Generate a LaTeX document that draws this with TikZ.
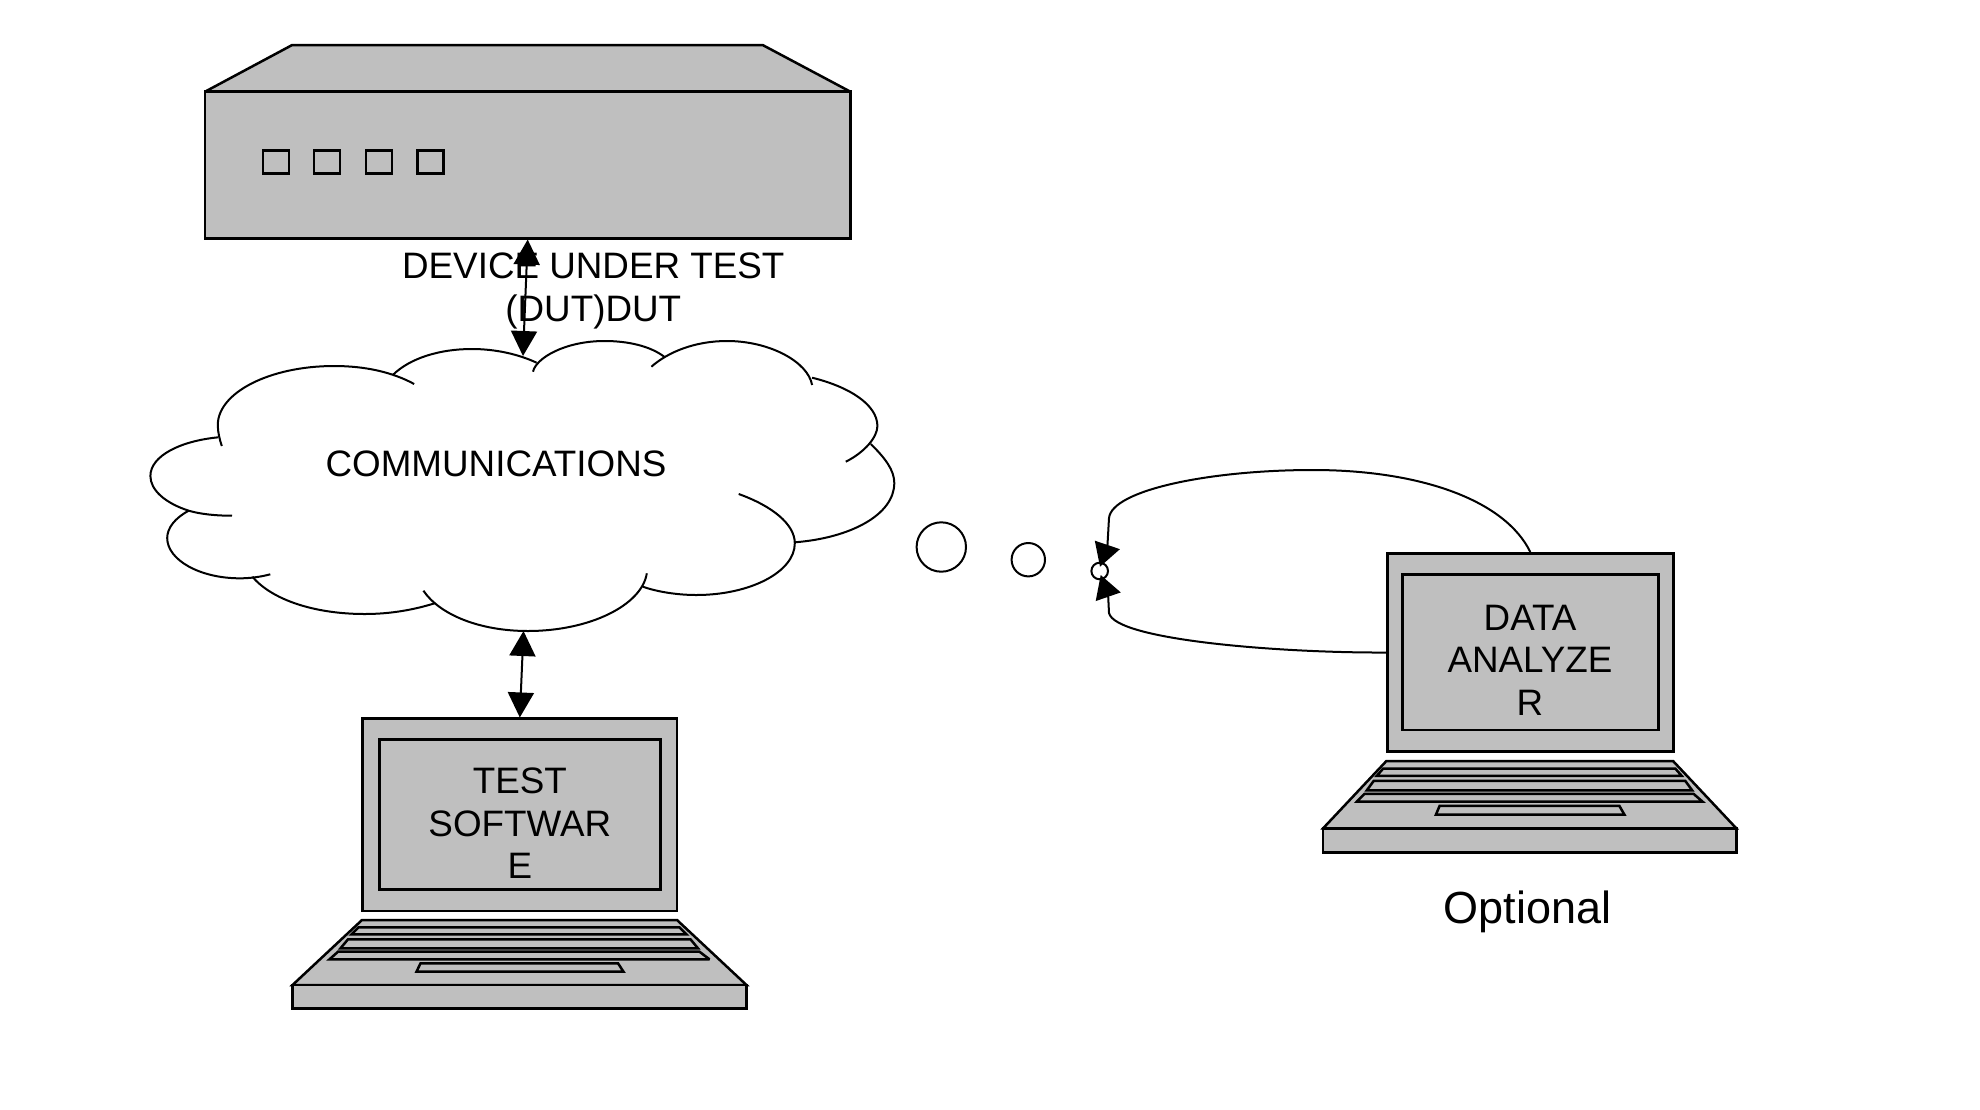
\documentclass[tikz,border=0pt]{standalone}
\usepackage{fontspec}
\setmainfont{Liberation Sans}
\usetikzlibrary{arrows.meta}
\definecolor{hwgray}{HTML}{BFBFBF}

\begin{document}
\begin{tikzpicture}[
		x=.5pt, y=-.5pt,
		hw/.style = {draw, fill=hwgray, line width=1.25pt, line join=miter, miter limit=3},
		main/.style = {hw, rectangle, inner sep=0pt},
		port/.style = {main, minimum width=13pt, minimum height=11.5pt},
		bubble/.style = {draw, circle, inner sep=0pt, line width=1pt},
		lobe/.style = {line width=1pt},
		link/.style = {<->, >={Triangle[length=12.5pt, width=13pt]}, line width=1pt},
		wire/.style = {-{Triangle[length=11.5pt, width=13pt]}, line width=1pt},
		caption/.style = {align=center, inner sep=0pt, font=\fontsize{18.4}{21.5}\selectfont},
		screen/.style = {align=center, inner sep=0pt, font=\fontsize{18.4}{21.4}\selectfont},
		pics/keyboard/.style = {code={
			\draw[hw] (-157.5,0) -- (157.5,0) -- (227,65) -- (-227,65) -- cycle;
			\draw[hw] (-227,65) rectangle (227,88.3);
			\draw[hw] (-161,7.3) -- (160,7.3) -- (167,14.3) -- (-168,14.3) -- cycle;
			\draw[hw] (-171.5,19.3) -- (171,19.3) -- (178.5,28.3) -- (-179,28.3) -- cycle;
			\draw[hw] (-181.5,31.7) -- (180,31.7) -- (190,39.3) -- (-190,39.3) -- cycle;
			\draw[hw] (-99,43.3) -- (98.5,43.3) -- (104,51.7) -- (-103,51.7) -- cycle;
		}}
	]
	\useasboundingbox (0,0) rectangle (1980,1109);

	% Device.
	\draw[hw, line join=bevel] (205,91.7) -- (292.2,45) -- (762.6,45) -- (850.4,91.7) -- cycle;
	\node[main, minimum width=322.7pt, minimum height=73.3pt] (dut) at (527.7,165) {};
	\node[port] (porta) at (276,162) {};
	\node[port] (portb) at (327,162) {};
	\node[port] (portc) at (379,162) {};
	\node[port] (portd) at (430.6,162) {};
	\node[caption] (dutlabel) at (593.3,291.3) {DEVICE UNDER TEST\\(DUT)DUT};

	% Cloud.
	\draw[lobe] (221.8,446) .. controls (219.5,439) and (217.8,432) .. (217.8,425) .. controls (217.8,392.5) and (270,366) .. (334,366) .. controls (365,366) and (392,372) .. (414.2,384);
	\draw[lobe] (392.8,375) .. controls (410,358) and (440,349) .. (471.8,349) .. controls (495,349) and (518,354) .. (536.6,362.7);
	\draw[lobe] (533,371.7) .. controls (536,358) and (565,341) .. (604.5,341) .. controls (628,341) and (650,346) .. (664.2,356.7);
	\draw[lobe] (651.4,366.7) .. controls (668,352) and (695,341) .. (726.9,341) .. controls (770,341) and (808,362) .. (812.1,385);
	\draw[lobe] (812.1,377.7) .. controls (850,387) and (877.4,405) .. (877.4,426) .. controls (877.4,437) and (865,452) .. (845.8,461.7);
	\draw[lobe] (870.8,444) .. controls (885,458) and (894.3,470) .. (894.3,483) .. controls (894.3,515) and (850,538) .. (794.8,542.3);
	\draw[lobe] (738.7,494) .. controls (772,506) and (794.8,524) .. (794.8,543.3) .. controls (794.8,572) and (750,595) .. (696.3,595) .. controls (678,595) and (658,592) .. (642.8,586.7);
	\draw[lobe] (646.8,573.3) .. controls (642,605) and (590,631) .. (528,631) .. controls (480,631) and (440,615) .. (423.4,590.7);
	\draw[lobe] (434.6,603.3) .. controls (413,610) and (390,614) .. (364.7,614) .. controls (315,614) and (272,600) .. (252.4,576.7);
	\draw[lobe] (270.3,574.3) .. controls (260,577) and (250,578.3) .. (239.7,578.3) .. controls (200,578.3) and (167.2,560) .. (167.2,538) .. controls (167.2,528) and (175,518) .. (188.7,510.7);
	\draw[lobe] (232,515.7) .. controls (215,515.7) and (200,514) .. (188.7,510.7) .. controls (165,503) and (150.4,490) .. (150.4,476) .. controls (150.4,456) and (180,441) .. (218.3,437.3);
	\node[caption] (comm) at (496,464) {COMMUNICATIONS};
	\coordinate (cloudtop) at (523,356);
	\coordinate (cloudbot) at (523.5,631);

	% Test laptop.
	\node[main, minimum width=157.2pt, minimum height=96.15pt] (testouter) at (519.8,814.85) {};
	\node[main, minimum width=140.5pt, minimum height=75pt] (testinner) at (520.2,814.3) {};
	\node[screen] (testlabel) at (519.8,823.3) {TEST\\SOFTWAR\\E};
	\pic (testkeys) at (519.5,920) {keyboard};

	% Analyzer laptop.
	\node[main, minimum width=143pt, minimum height=99.2pt] (dataouter) at (1530.3,652.5) {};
	\node[main, minimum width=128pt, minimum height=77.85pt] (datainner) at (1530.7,652.15) {};
	\node[screen] (datalabel) at (1530,660.3) {DATA\\ANALYZE\\R};
	\pic[xscale=.91, yscale=1.035] (datakeys) at (1529.7,761) {keyboard};
	\node[inner sep=0pt, font=\fontsize{22.5}{26}\selectfont] (optional) at (1527.5,912) {Optional};

	% Dots.
	\node[bubble, minimum size=24.7pt] (bubblea) at (941.3,547) {};
	\node[bubble, minimum size=16.7pt] (bubbleb) at (1028.3,559.7) {};
	\node[bubble, minimum size=8.3pt] (bubblec) at (1099.7,571) {};
	\coordinate (dotup) at (1100,566.7);
	\coordinate (dotdown) at (1100.7,575);

	\draw[link] (dut.south) to (cloudtop);
	\draw[link] (cloudbot) to (testouter.north);
	\draw[wire] (dataouter.north) .. controls (1505,500) and (1420,470) .. (1313,470) .. controls (1210,470) and (1112,490) .. (1109,518) -- (1107.5,544.5) -- (dotup);
	\draw[wire] (dataouter.west) .. controls (1280,653) and (1115,640) .. (1109,613) -- (1108.2,596.7) -- (dotdown);
\end{tikzpicture}
\end{document}
